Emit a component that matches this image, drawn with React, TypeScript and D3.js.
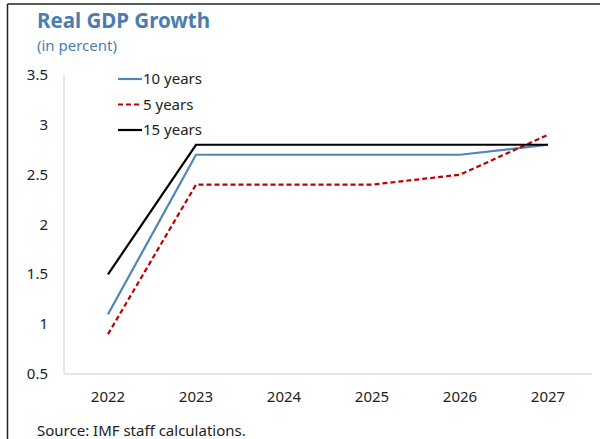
import React from "react";
import * as d3 from "d3";

const years = ["2022", "2023", "2024", "2025", "2026", "2027"];
const tenYears = [1.1, 2.7, 2.7, 2.7, 2.7, 2.8];
const fiveYears = [0.9, 2.4, 2.4, 2.4, 2.5, 2.9];
const fifteenYears = [1.5, 2.8, 2.8, 2.8, 2.8, 2.8];
const yTicks = [0.5, 1, 1.5, 2, 2.5, 3, 3.5];

const seriesList = [
  { name: "10 years", values: tenYears, color: "#4f86b8", dash: "" },
  { name: "5 years", values: fiveYears, color: "#c00000", dash: "5,3" },
  { name: "15 years", values: fifteenYears, color: "#000000", dash: "" },
];

export default function App() {
  const W = 603, H = 439;
  const left = 64, right = 592, top = 75, bottom = 374;
  const x = d3.scaleBand<string>().domain(years).range([left, right]);
  const y = d3.scaleLinear().domain([0.5, 3.5]).range([bottom, top]);
  const line = d3
    .line<number>()
    .x((_, i) => (x(years[i]) as number) + x.bandwidth() / 2)
    .y((d) => y(d));
  const font = "'Segoe UI', 'Noto Sans', 'Open Sans', sans-serif";
  const fmt = (v: number) => String(v);

  return (
    <svg
      width={W}
      height={H}
      style={{ position: "absolute", left: 0, top: 0, display: "block" }}
      fontFamily={font}
    >
      <rect x={0} y={0} width={W} height={H} fill="#fff" />
      <line x1={7.5} y1={4} x2={600} y2={4} stroke="#222" strokeWidth={1.5} />
      <line x1={7.5} y1={4} x2={7.5} y2={H} stroke="#222" strokeWidth={1.5} />
      <text x={37} y={28} fontSize={20.5} fontWeight={700} fill="#4a7eb0">
        Real GDP Growth
      </text>
      <text x={37} y={51} fontSize={15} fill="#4a7eb0">
        (in percent)
      </text>
      <line x1={left} y1={top - 1} x2={left} y2={bottom} stroke="#d0d0d0" strokeWidth={1} />
      <line x1={left} y1={bottom} x2={right} y2={bottom} stroke="#d0d0d0" strokeWidth={1} />
      {yTicks.map((t) => (
        <text key={t} x={48} y={y(t) + 5} fontSize={15} textAnchor="end" fill="#222">
          {fmt(t)}
        </text>
      ))}
      {years.map((yr) => (
        <text
          key={yr}
          x={(x(yr) as number) + x.bandwidth() / 2}
          y={402}
          fontSize={15}
          textAnchor="middle"
          fill="#222"
        >
          {yr}
        </text>
      ))}
      {seriesList.map((s) => (
        <path
          key={s.name}
          d={line(s.values) || ""}
          fill="none"
          stroke={s.color}
          strokeWidth={2.2}
          strokeDasharray={s.dash}
        />
      ))}
      {seriesList.map((s, i) => (
        <g key={s.name} transform={`translate(118, ${79 + i * 25.5})`}>
          <line x1={0} x2={24} y1={0} y2={0} stroke={s.color} strokeWidth={2.2} strokeDasharray={s.dash} />
          <text x={25} y={5} fontSize={15} fill="#222">
            {s.name}
          </text>
        </g>
      ))}
      <text x={37} y={436} fontSize={15} fill="#222">
        Source: IMF staff calculations.
      </text>
    </svg>
  );
}
